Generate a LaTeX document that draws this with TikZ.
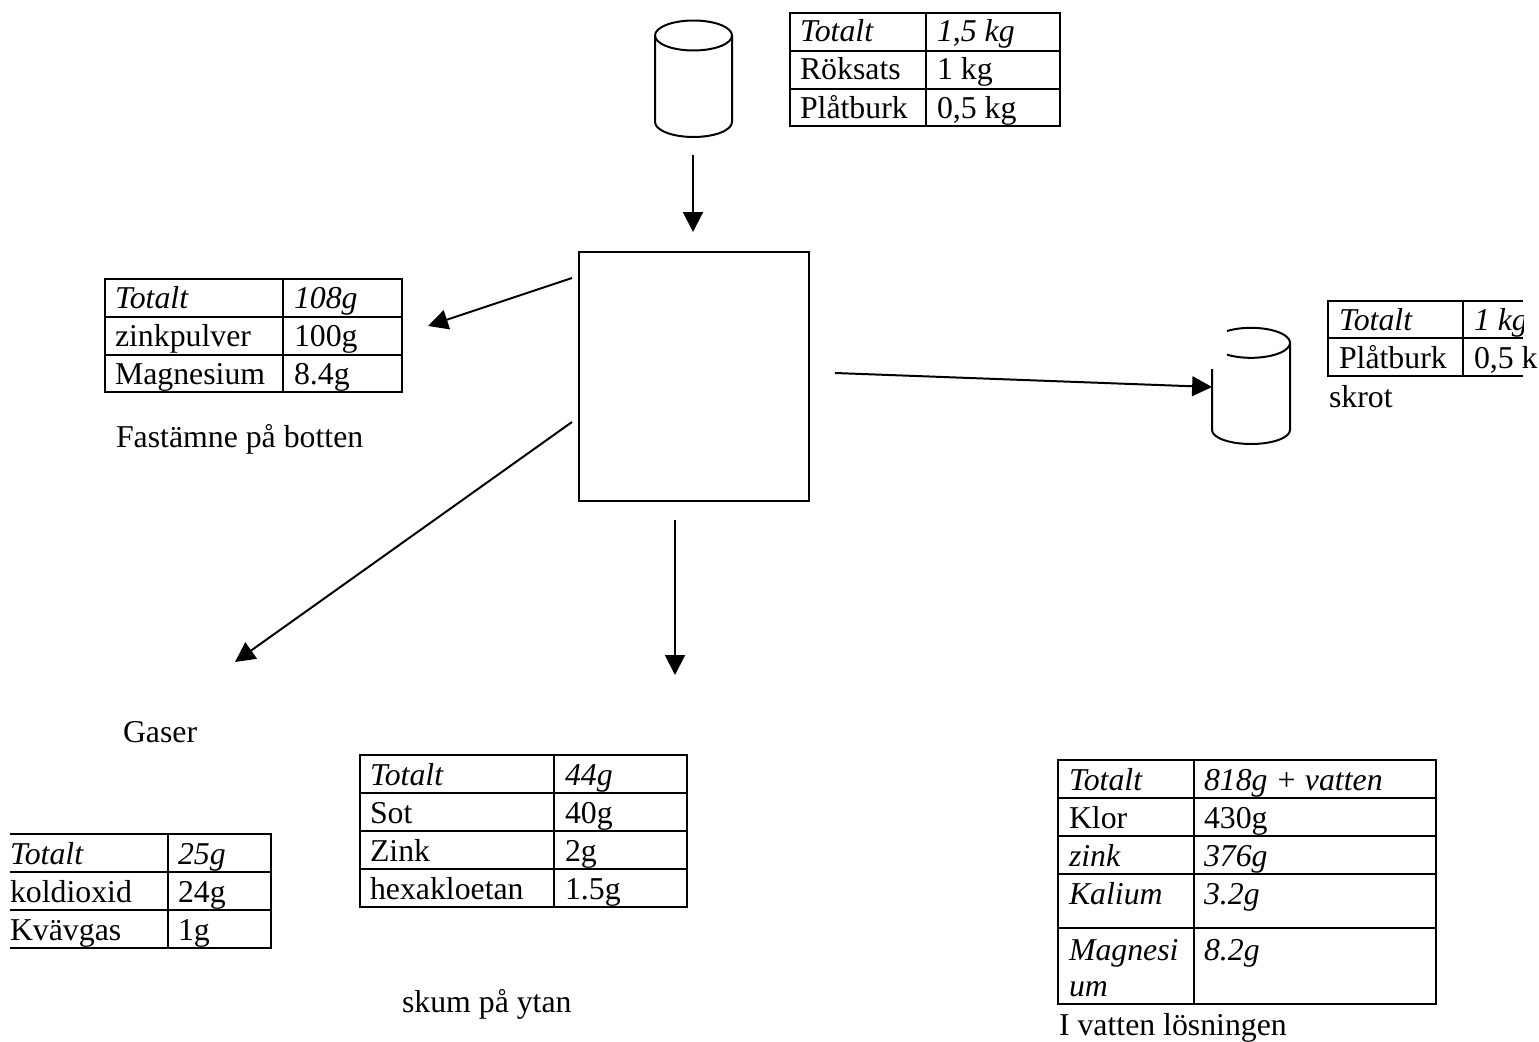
\documentclass[tikz,border=0pt]{standalone}
\usepackage{fontspec}
\setmainfont{Liberation Serif}
\usetikzlibrary{arrows.meta}
\tikzset{
  flow/.style={line width=0.75pt,-{Triangle[length=7.5pt,width=7.5pt]}},
  tabline/.style={line width=0.5pt},
  can/.style={line width=0.75pt},
  txt/.style={anchor=base west,inner sep=0pt,outer sep=0pt,font=\fontsize{12}{14}\selectfont},
  itxt/.style={txt,font=\fontsize{12}{14}\selectfont\itshape}
}
\begin{document}
\begin{tikzpicture}[x=0.3774pt,y=-0.3774pt]
  \useasboundingbox (0,0) rectangle (1539,1041);
  % main box
  \node[draw,line width=0.75pt,minimum width=86.8pt,minimum height=93.9pt,inner sep=0pt] (tank) at (693.5,376.5) {};
  % arrow end points
  \coordinate (inA) at (693,155);
  \coordinate (inB) at (693,232);
  \coordinate (solidA) at (572,278);
  \coordinate (solidB) at (428,326);
  \coordinate (gasA) at (572,422);
  \coordinate (gasB) at (235,662);
  \coordinate (foamA) at (675,520);
  \coordinate (foamB) at (675,675);
  \coordinate (scrapA) at (835,373);
  \coordinate (scrapB) at (1212,387);
  \draw[flow] (inA) -- (inB);
  \draw[flow] (solidA) -- (solidB);
  \draw[flow] (gasA) -- (gasB);
  \draw[flow] (foamA) -- (foamB);
  \draw[flow] (scrapA) -- (scrapB);
  % can, top
  \draw[can] (693.5,35.5) ellipse [x radius=38.5,y radius=15];
  \draw[can] (655,35.5) -- (655,122) arc [start angle=180,end angle=0,x radius=38.5,y radius=15] -- (732,35.5);
  % can, right (open rim)
  \draw[can] (1227,331) arc [start angle=-128,end angle=128,x radius=39,y radius=15];
  \draw[can] (1290,343) -- (1290,430) arc [start angle=0,end angle=180,x radius=39,y radius=14] -- (1212,369);
  % table top
  \draw[tabline] (790,13) rectangle (1060,126) (926,13) -- (926,126) (790,51) -- (1060,51) (790,89) -- (1060,89);
  \node[itxt] (topA) at (800,42) {Totalt};
  \node[itxt] (topB) at (937,42) {1,5 kg};
  \node[txt] (topC) at (800,80) {Röksats};
  \node[txt] (topD) at (937,80) {1 kg};
  \node[txt] (topE) at (800,119) {Plåtburk};
  \node[txt] (topF) at (937,119) {0,5 kg};
  % table left
  \draw[tabline] (105,279) rectangle (402,392) (283,279) -- (283,392) (105,317) -- (402,317) (105,355) -- (402,355);
  \node[itxt] (solA) at (115,308) {Totalt};
  \node[itxt] (solB) at (294,308) {108g};
  \node[txt] (solC) at (115,346) {zinkpulver};
  \node[txt] (solD) at (294,346) {100g};
  \node[txt] (solE) at (115,384) {Magnesium};
  \node[txt] (solF) at (294,384) {8.4g};
  \node[txt] (solLabel) at (116,447) {Fastämne på botten};
  % table right, cut off
  \draw[tabline] (1523,301) -- (1328,301) -- (1328,376) -- (1523,376) (1463,301) -- (1463,376) (1328,338) -- (1523,338);
  \node[itxt] (scrapC) at (1339,330) {Totalt};
  \begin{scope}
    \clip (1463,290) rectangle (1523,345);
    \node[itxt] (scrapD) at (1474,330) {1 kg};
  \end{scope}
  \node[txt] (scrapE) at (1339,368) {Plåtburk};
  \node[txt] (scrapF) at (1474,368) {0,5 k};
  \node[txt] (scrapLabel) at (1329,407) {skrot};
  % table gases
  \draw[tabline] (10,834) -- (271,834) -- (271,948) -- (10,948) (168,834) -- (168,948) (10,872) -- (271,872) (10,910) -- (271,910);
  \node[itxt] (gasC) at (10,864) {Totalt};
  \node[itxt] (gasD) at (178,864) {25g};
  \node[txt] (gasE) at (10,902) {koldioxid};
  \node[txt] (gasF) at (178,902) {24g};
  \node[txt] (gasG) at (10,940) {Kvävgas};
  \node[txt] (gasH) at (178,940) {1g};
  \node[txt] (gasLabel) at (123,742) {Gaser};
  % table foam
  \draw[tabline] (360,755) rectangle (687,907) (554,755) -- (554,907) (360,793) -- (687,793) (360,831) -- (687,831) (360,869) -- (687,869);
  \node[itxt] (foamC) at (370,785) {Totalt};
  \node[itxt] (foamD) at (565,785) {44g};
  \node[txt] (foamE) at (370,823) {Sot};
  \node[txt] (foamF) at (565,823) {40g};
  \node[txt] (foamG) at (370,861) {Zink};
  \node[txt] (foamH) at (565,861) {2g};
  \node[txt] (foamI) at (370,899) {hexakloetan};
  \node[txt] (foamJ) at (565,899) {1.5g};
  \node[txt] (foamLabel) at (402,1012) {skum på ytan};
  % table water
  \draw[tabline] (1058,760) rectangle (1436,1004) (1194,760) -- (1194,1004) (1058,798) -- (1436,798) (1058,836) -- (1436,836) (1058,874) -- (1436,874) (1058,928) -- (1436,928);
  \node[itxt] (watA) at (1069,790) {Totalt};
  \node[itxt] (watB) at (1204,790) {818g + vatten};
  \node[txt] (watC) at (1069,828) {Klor};
  \node[txt] (watD) at (1204,828) {430g};
  \node[itxt] (watE) at (1069,866) {zink};
  \node[itxt] (watF) at (1204,866) {376g};
  \node[itxt] (watG) at (1069,904) {Kalium};
  \node[itxt] (watH) at (1204,904) {3.2g};
  \node[itxt] (watI) at (1069,960) {Magnesi};
  \node[itxt] (watJ) at (1069,996) {um};
  \node[itxt] (watK) at (1204,960) {8.2g};
  \node[txt] (watLabel) at (1059,1035) {I vatten lösningen};
\end{tikzpicture}
\end{document}
